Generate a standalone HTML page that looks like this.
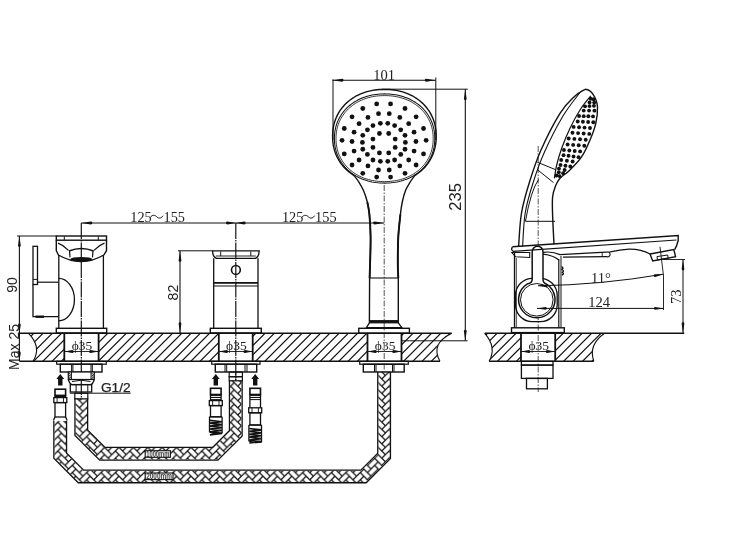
<!DOCTYPE html>
<html><head><meta charset="utf-8"><style>
html,body{margin:0;padding:0;background:#fff;}
body{width:738px;height:540px;overflow:hidden;font-family:"Liberation Sans",sans-serif;}
svg{display:block;}
text{-webkit-font-smoothing:antialiased;}
</style></head><body>
<svg width="738" height="540" viewBox="0 0 738 540" style="will-change:transform">
<defs><clipPath id="cl1"><path d="M28.5,333.3 L451.7,333.3 Q430,344 440,361.3 L33,361.3 Q42,347 28.5,333.3 Z M64.3,333.3H98.6V361.3H64.3Z M218.8,333.3H252.7V361.3H218.8Z M367.5,333.3H401.5V361.3H367.5Z" clip-rule="evenodd"/></clipPath><clipPath id="cl2"><path d="M484.7,333.3 L604.6,333.3 Q588,345 593.8,361.3 L489.1,361.3 Q497,347 484.7,333.3 Z M521,333.3H555.2V361.3H521Z" clip-rule="evenodd"/></clipPath><pattern id="hb" width="14.4" height="7.2" patternUnits="userSpaceOnUse" patternTransform="translate(3.8,1)"><path d="M10.8,-10.8 L14.4,-7.2 L7.2,-0 L3.6,-3.6ZM-3.6,-10.8 L-0,-7.2 L-7.2,-0 L-10.8,-3.6ZM14.4,-7.2 L21.6,0 L18,3.6 L10.8,-3.6ZM0,-7.2 L7.2,0 L3.6,3.6 L-3.6,-3.6ZM10.8,-3.6 L14.4,-0 L7.2,7.2 L3.6,3.6ZM-3.6,-3.6 L0,0 L-7.2,7.2 L-10.8,3.6ZM14.4,0 L21.6,7.2 L18,10.8 L10.8,3.6ZM0,0 L7.2,7.2 L3.6,10.8 L-3.6,3.6ZM10.8,3.6 L14.4,7.2 L7.2,14.4 L3.6,10.8ZM-3.6,3.6 L-0,7.2 L-7.2,14.4 L-10.8,10.8ZM14.4,7.2 L21.6,14.4 L18,18 L10.8,10.8ZM0,7.2 L7.2,14.4 L3.6,18 L-3.6,10.8Z" stroke="#111" stroke-width="1.25" fill="none"/></pattern></defs>
<rect width="738" height="540" fill="#fff"/>
<g clip-rule="evenodd"></g>
<path d="M-1.2,331.3L-33.2,363.3M8.05,331.3L-23.95,363.3M17.3,331.3L-14.7,363.3M26.55,331.3L-5.45,363.3M35.8,331.3L3.8,363.3M45.05,331.3L13.05,363.3M54.3,331.3L22.3,363.3M63.55,331.3L31.55,363.3M72.8,331.3L40.8,363.3M82.05,331.3L50.05,363.3M91.3,331.3L59.3,363.3M100.55,331.3L68.55,363.3M109.8,331.3L77.8,363.3M119.05,331.3L87.05,363.3M128.3,331.3L96.3,363.3M137.55,331.3L105.55,363.3M146.8,331.3L114.8,363.3M156.05,331.3L124.05,363.3M165.3,331.3L133.3,363.3M174.55,331.3L142.55,363.3M183.8,331.3L151.8,363.3M193.05,331.3L161.05,363.3M202.3,331.3L170.3,363.3M211.55,331.3L179.55,363.3M220.8,331.3L188.8,363.3M230.05,331.3L198.05,363.3M239.3,331.3L207.3,363.3M248.55,331.3L216.55,363.3M257.8,331.3L225.8,363.3M267.05,331.3L235.05,363.3M276.3,331.3L244.3,363.3M285.55,331.3L253.55,363.3M294.8,331.3L262.8,363.3M304.05,331.3L272.05,363.3M313.3,331.3L281.3,363.3M322.55,331.3L290.55,363.3M331.8,331.3L299.8,363.3M341.05,331.3L309.05,363.3M350.3,331.3L318.3,363.3M359.55,331.3L327.55,363.3M368.8,331.3L336.8,363.3M378.05,331.3L346.05,363.3M387.3,331.3L355.3,363.3M396.55,331.3L364.55,363.3M405.8,331.3L373.8,363.3M415.05,331.3L383.05,363.3M424.3,331.3L392.3,363.3M433.55,331.3L401.55,363.3M442.8,331.3L410.8,363.3M452.05,331.3L420.05,363.3M461.3,331.3L429.3,363.3M470.55,331.3L438.55,363.3M479.8,331.3L447.8,363.3M489.05,331.3L457.05,363.3M498.3,331.3L466.3,363.3M507.55,331.3L475.55,363.3" stroke="#111" stroke-width="1.2" fill="none" clip-path="url(#cl1)"/>
<path d="M28.5,333.3 Q42,347 33,361.3" fill="none" stroke="#111" stroke-width="1.1" />
<path d="M451.7,333.3 Q430,344 440,361.3" fill="none" stroke="#111" stroke-width="1.1" />
<line x1="19.4" y1="333.3" x2="451.7" y2="333.3" stroke="#111" stroke-width="1.6" />
<line x1="19.4" y1="361.3" x2="440" y2="361.3" stroke="#111" stroke-width="1.6" />
<line x1="64.3" y1="333.3" x2="64.3" y2="361.3" stroke="#111" stroke-width="1.8" />
<line x1="98.6" y1="333.3" x2="98.6" y2="361.3" stroke="#111" stroke-width="1.8" />
<line x1="218.8" y1="333.3" x2="218.8" y2="361.3" stroke="#111" stroke-width="1.8" />
<line x1="252.7" y1="333.3" x2="252.7" y2="361.3" stroke="#111" stroke-width="1.8" />
<line x1="367.5" y1="333.3" x2="367.5" y2="361.3" stroke="#111" stroke-width="1.8" />
<line x1="401.5" y1="333.3" x2="401.5" y2="361.3" stroke="#111" stroke-width="1.8" />
<path d="M461.3,331.3L429.3,363.3M470.75,331.3L438.75,363.3M480.2,331.3L448.2,363.3M489.65,331.3L457.65,363.3M499.1,331.3L467.1,363.3M508.55,331.3L476.55,363.3M518,331.3L486,363.3M527.45,331.3L495.45,363.3M536.9,331.3L504.9,363.3M546.35,331.3L514.35,363.3M555.8,331.3L523.8,363.3M565.25,331.3L533.25,363.3M574.7,331.3L542.7,363.3M584.15,331.3L552.15,363.3M593.6,331.3L561.6,363.3M603.05,331.3L571.05,363.3M612.5,331.3L580.5,363.3M621.95,331.3L589.95,363.3M631.4,331.3L599.4,363.3M640.85,331.3L608.85,363.3M650.3,331.3L618.3,363.3" stroke="#111" stroke-width="1.2" fill="none" clip-path="url(#cl2)"/>
<path d="M484.7,333.3 Q497,347 489.1,361.3" fill="none" stroke="#111" stroke-width="1.1" />
<path d="M604.6,333.3 Q588,345 593.8,361.3" fill="none" stroke="#111" stroke-width="1.1" />
<line x1="484.7" y1="333.3" x2="684.2" y2="333.3" stroke="#111" stroke-width="1.4" />
<line x1="489.1" y1="361.3" x2="593.8" y2="361.3" stroke="#111" stroke-width="1.6" />
<line x1="521" y1="333.3" x2="521" y2="361.3" stroke="#111" stroke-width="1.8" />
<line x1="555.2" y1="333.3" x2="555.2" y2="361.3" stroke="#111" stroke-width="1.8" />
<text x="82.05" y="349.6" font-family="Liberation Serif" font-size="13.5" text-anchor="middle" fill="#222" >&#981;35</text>
<line x1="64.45" y1="351.5" x2="98.45" y2="351.5" stroke="#111" stroke-width="0.9" />
<path d="M64.45,351.5 L72.25,349.97 A1.53,1.53 0 0 1 72.25,353.03 Z" fill="#111" stroke="none"/>
<path d="M98.45,351.5 L90.65,353.03 A1.53,1.53 0 0 1 90.65,349.97 Z" fill="#111" stroke="none"/>
<text x="236.35" y="349.6" font-family="Liberation Serif" font-size="13.5" text-anchor="middle" fill="#222" >&#981;35</text>
<line x1="218.75" y1="351.5" x2="252.75" y2="351.5" stroke="#111" stroke-width="0.9" />
<path d="M218.75,351.5 L226.55,349.97 A1.53,1.53 0 0 1 226.55,353.03 Z" fill="#111" stroke="none"/>
<path d="M252.75,351.5 L244.95,353.03 A1.53,1.53 0 0 1 244.95,349.97 Z" fill="#111" stroke="none"/>
<text x="385.1" y="349.6" font-family="Liberation Serif" font-size="13.5" text-anchor="middle" fill="#222" >&#981;35</text>
<line x1="367.5" y1="351.5" x2="401.5" y2="351.5" stroke="#111" stroke-width="0.9" />
<path d="M367.5,351.5 L375.3,349.97 A1.53,1.53 0 0 1 375.3,353.03 Z" fill="#111" stroke="none"/>
<path d="M401.5,351.5 L393.7,353.03 A1.53,1.53 0 0 1 393.7,349.97 Z" fill="#111" stroke="none"/>
<text x="538.7" y="349.6" font-family="Liberation Serif" font-size="13.5" text-anchor="middle" fill="#222" >&#981;35</text>
<line x1="521.1" y1="351.5" x2="555.1" y2="351.5" stroke="#111" stroke-width="0.9" />
<path d="M521.1,351.5 L528.9,349.97 A1.53,1.53 0 0 1 528.9,353.03 Z" fill="#111" stroke="none"/>
<path d="M555.1,351.5 L547.3,353.03 A1.53,1.53 0 0 1 547.3,349.97 Z" fill="#111" stroke="none"/>
<line x1="81.3" y1="223" x2="384.2" y2="223" stroke="#111" stroke-width="1.0" />
<path d="M81.3,223 L90.9,221.56 A1.44,1.44 0 0 1 90.9,224.44 Z" fill="#111" stroke="none"/>
<path d="M235.8,223 L227.4,224.44 A1.44,1.44 0 0 1 227.4,221.56 Z" fill="#111" stroke="none"/>
<path d="M235.8,223 L244.2,221.56 A1.44,1.44 0 0 1 244.2,224.44 Z" fill="#111" stroke="none"/>
<path d="M384.2,223 L374.6,224.44 A1.44,1.44 0 0 1 374.6,221.56 Z" fill="#111" stroke="none"/>
<text x="130.3" y="221.7" font-family="Liberation Serif" font-size="14.3" text-anchor="start" fill="#222" >125</text>
<path d="M150.1,217.5 C152.6,214.2 155.1,215.2 156.6,216.7 C158.1,218.2 160.6,219.2 163.1,215.7" fill="none" stroke="#111" stroke-width="1.0" />
<text x="163.5" y="221.7" font-family="Liberation Serif" font-size="14.3" text-anchor="start" fill="#222" >155</text>
<text x="281.9" y="221.7" font-family="Liberation Serif" font-size="14.3" text-anchor="start" fill="#222" >125</text>
<path d="M301.7,217.5 C304.2,214.2 306.7,215.2 308.2,216.7 C309.7,218.2 312.2,219.2 314.7,215.7" fill="none" stroke="#111" stroke-width="1.0" />
<text x="315.1" y="221.7" font-family="Liberation Serif" font-size="14.3" text-anchor="start" fill="#222" >155</text>
<line x1="81.3" y1="223" x2="81.3" y2="398" stroke="#151515" stroke-width="1.2" stroke-dasharray="16 1 1.5 1"/>
<rect x="56.3" y="236" width="50.2" height="4.2" fill="none" stroke="#111" stroke-width="1.4" />
<line x1="64.3" y1="236.5" x2="64.3" y2="240" stroke="#111" stroke-width="1" />
<line x1="98.3" y1="236.5" x2="98.3" y2="240" stroke="#111" stroke-width="1" />
<path d="M56.3,240.2 V250.7 L58.4,255 Q81.3,268.2 103.8,255 L106.5,250.7 V240.2" fill="none" stroke="#111" stroke-width="1.4" />
<path d="M58,243.1 Q63.5,245 68.5,250.3" fill="none" stroke="#111" stroke-width="1.2" />
<path d="M104.5,243.1 Q99,245 94,250.3" fill="none" stroke="#111" stroke-width="1.2" />
<path d="M69,251 Q81.3,246 93.5,251" fill="none" stroke="#111" stroke-width="1.5" />
<line x1="69.5" y1="250.5" x2="70" y2="257.4" stroke="#111" stroke-width="1.2" />
<line x1="93" y1="250.5" x2="92.5" y2="257.4" stroke="#111" stroke-width="1.2" />
<ellipse cx="81.3" cy="259.3" rx="10.9" ry="2.4" fill="#111"/>
<line x1="58.8" y1="255" x2="58.8" y2="328.3" stroke="#111" stroke-width="1.3" />
<line x1="103.4" y1="255" x2="103.4" y2="328.3" stroke="#111" stroke-width="1.3" />
<rect x="56.3" y="328.3" width="50.4" height="4.7" fill="none" stroke="#111" stroke-width="1.4" />
<rect x="33" y="246.3" width="4.5" height="38.2" fill="none" stroke="#111" stroke-width="1.3" />
<line x1="33" y1="279.4" x2="37.5" y2="279.4" stroke="#111" stroke-width="1" />
<line x1="37.5" y1="282.2" x2="58.5" y2="282.2" stroke="#111" stroke-width="1.2" />
<path d="M33,284.5 V316.7 H58.5" fill="none" stroke="#111" stroke-width="1.3" />
<line x1="35.5" y1="316.7" x2="44" y2="316.7" stroke="#111" stroke-width="2.4" />
<path d="M58.7,278.3 A15.7,21.2 0 0 1 58.7,320.8" fill="none" stroke="#111" stroke-width="1.3" />
<line x1="17" y1="236" x2="56.3" y2="236" stroke="#111" stroke-width="1" />
<line x1="19.4" y1="236" x2="19.4" y2="361.3" stroke="#111" stroke-width="1.1" />
<path d="M19.4,236 L20.75,245.6 A1.35,1.35 0 0 1 18.05,245.6 Z" fill="#111" stroke="none"/>
<path d="M19.4,333.3 L18.05,324.9 A1.35,1.35 0 0 1 20.75,324.9 Z" fill="#111" stroke="none"/>
<path d="M19.4,361.3 L18.05,352.9 A1.35,1.35 0 0 1 20.75,352.9 Z" fill="#111" stroke="none"/>
<text x="17.3" y="285" font-family="Liberation Sans" font-size="14" text-anchor="middle" fill="#222" transform="rotate(-90 17.3 285)" >90</text>
<text x="18.6" y="347" font-family="Liberation Sans" font-size="14" text-anchor="middle" fill="#222" transform="rotate(-90 18.6 347)" >Max 25</text>
<line x1="235.8" y1="223" x2="235.8" y2="382" stroke="#151515" stroke-width="1.2" stroke-dasharray="16 1 1.5 1"/>
<path d="M212.5,250.8 H259.2 Q259,257 255.5,258.3 H216.5 Q212.7,257 212.5,250.8 Z" fill="none" stroke="#111" stroke-width="1.3" />
<line x1="220.7" y1="251.5" x2="220.7" y2="256" stroke="#111" stroke-width="1" />
<line x1="250.8" y1="251.5" x2="250.8" y2="256" stroke="#111" stroke-width="1" />
<line x1="216" y1="256" x2="255.8" y2="256" stroke="#111" stroke-width="0.9" />
<line x1="213.7" y1="258.3" x2="213.7" y2="328.3" stroke="#111" stroke-width="1.3" />
<line x1="258" y1="258.3" x2="258" y2="328.3" stroke="#111" stroke-width="1.3" />
<line x1="213.7" y1="282.9" x2="258" y2="282.9" stroke="#111" stroke-width="1.7" />
<line x1="213.7" y1="286" x2="258" y2="286" stroke="#111" stroke-width="1.2" />
<circle cx="235.9" cy="269.9" r="4.4" fill="none" stroke="#111" stroke-width="1.6"/>
<rect x="210.3" y="328.3" width="51" height="4.7" fill="none" stroke="#111" stroke-width="1.4" />
<line x1="178" y1="250.8" x2="212.5" y2="250.8" stroke="#111" stroke-width="1" />
<line x1="180" y1="250.8" x2="180" y2="333.3" stroke="#111" stroke-width="1.1" />
<path d="M180,250.8 L181.35,260.4 A1.35,1.35 0 0 1 178.65,260.4 Z" fill="#111" stroke="none"/>
<path d="M180,333.3 L178.65,323.7 A1.35,1.35 0 0 1 181.35,323.7 Z" fill="#111" stroke="none"/>
<text x="178.5" y="292.6" font-family="Liberation Sans" font-size="14" text-anchor="middle" fill="#222" transform="rotate(-90 178.5 292.6)" >82</text>
<line x1="384.2" y1="185" x2="384.2" y2="378" stroke="#555" stroke-width="1.0" stroke-dasharray="6 1.5 1.5 1.5"/>
<path d="M369.4,320.7 L369.6,278 C369.68,275.55 369.93,270.18 370.1,263.3 C370.27,256.42 370.72,244.85 370.6,236.7 C370.48,228.55 369.95,220.18 369.4,214.4 C368.85,208.62 368.28,205.98 367.3,202 C366.32,198.02 364.97,193.92 363.5,190.5 C362.03,187.08 360.07,183.99 358.5,181.5 C356.93,179.01 354.83,176.55 354.1,175.56 L352.37,174.45 L350.7,173.28 L349.09,172.04 L347.54,170.74 L346.06,169.37 L344.65,167.95 L343.31,166.47 L342.04,164.93 L340.84,163.35 L339.72,161.71 L338.68,160.02 L337.71,158.28 L336.83,156.5 L336.02,154.67 L335.3,152.8 L334.66,150.89 L334.11,148.94 L333.64,146.96 L333.26,144.93 L332.96,142.85 L332.76,140.73 L332.63,138.52 L332.6,136.09 L332.65,133.77 L332.8,131.59 L333.02,129.47 L333.34,127.41 L333.74,125.39 L334.23,123.41 L334.8,121.47 L335.46,119.57 L336.2,117.71 L337.02,115.9 L337.92,114.12 L338.91,112.4 L339.97,110.72 L341.11,109.09 L342.32,107.51 L343.61,105.99 L344.96,104.52 L346.39,103.11 L347.89,101.76 L349.45,100.48 L351.07,99.25 L352.76,98.09 L354.5,97 L356.3,95.97 L358.16,95.02 L360.07,94.13 L362.03,93.32 L364.03,92.58 L366.09,91.92 L368.19,91.33 L370.33,90.82 L372.51,90.39 L374.75,90.03 L377.03,89.76 L379.36,89.56 L381.78,89.44 L384.4,89.4 L387.02,89.44 L389.44,89.56 L391.77,89.76 L394.05,90.03 L396.29,90.39 L398.47,90.82 L400.61,91.33 L402.71,91.92 L404.77,92.58 L406.77,93.32 L408.73,94.13 L410.64,95.02 L412.5,95.97 L414.3,97 L416.04,98.09 L417.73,99.25 L419.35,100.48 L420.91,101.76 L422.41,103.11 L423.84,104.52 L425.19,105.99 L426.48,107.51 L427.69,109.09 L428.83,110.72 L429.89,112.4 L430.88,114.12 L431.78,115.9 L432.6,117.71 L433.34,119.57 L434,121.47 L434.57,123.41 L435.06,125.39 L435.46,127.41 L435.78,129.47 L436,131.59 L436.15,133.77 L436.2,136.09 L436.17,138.52 L436.04,140.73 L435.84,142.85 L435.54,144.93 L435.16,146.96 L434.69,148.94 L434.14,150.89 L433.5,152.8 L432.78,154.67 L431.97,156.5 L431.09,158.28 L430.12,160.02 L429.08,161.71 L427.96,163.35 L426.76,164.93 L425.49,166.47 L424.15,167.95 L422.74,169.37 L421.26,170.74 L419.71,172.04 L418.1,173.28 L416.43,174.45 L414.7,175.56 L414.7,175.56 C414,176.55 412.03,179.01 410.5,181.5 C408.97,183.99 406.87,187.08 405.5,190.5 C404.13,193.92 403.15,198.02 402.3,202 C401.45,205.98 401.07,208.62 400.4,214.4 C399.73,220.18 398.73,228.55 398.3,236.7 C397.87,244.85 397.8,256.42 397.8,263.3 C397.8,270.18 398.22,275.55 398.3,278 L398.3,320.7" fill="none" stroke="#111" stroke-width="1.4" />
<path d="M434.8,138.5 L434.76,140.54 L434.65,142.45 L434.47,144.3 L434.21,146.12 L433.88,147.91 L433.48,149.66 L433,151.38 L432.46,153.07 L431.84,154.74 L431.15,156.37 L430.4,157.96 L429.58,159.52 L428.68,161.05 L427.73,162.54 L426.71,163.98 L425.62,165.39 L424.48,166.75 L423.27,168.07 L422.01,169.34 L420.69,170.56 L419.31,171.74 L417.88,172.86 L416.4,173.93 L414.86,174.95 L413.28,175.91 L411.65,176.82 L409.98,177.67 L408.26,178.46 L406.51,179.19 L404.71,179.86 L402.88,180.47 L401,181.02 L399.1,181.5 L397.16,181.93 L395.19,182.28 L393.18,182.58 L391.13,182.81 L389.05,182.97 L386.9,183.07 L384.6,183.1 L382.3,183.07 L380.15,182.97 L378.07,182.81 L376.02,182.58 L374.01,182.28 L372.04,181.93 L370.1,181.5 L368.2,181.02 L366.32,180.47 L364.49,179.86 L362.69,179.19 L360.94,178.46 L359.22,177.67 L357.55,176.82 L355.92,175.91 L354.34,174.95 L352.8,173.93 L351.32,172.86 L349.89,171.74 L348.51,170.56 L347.19,169.34 L345.93,168.07 L344.72,166.75 L343.58,165.39 L342.49,163.98 L341.47,162.54 L340.52,161.05 L339.62,159.52 L338.8,157.96 L338.05,156.37 L337.36,154.74 L336.74,153.07 L336.2,151.38 L335.72,149.66 L335.32,147.91 L334.99,146.12 L334.73,144.3 L334.55,142.45 L334.44,140.54 L334.4,138.5 L334.44,136.46 L334.55,134.55 L334.73,132.7 L334.99,130.88 L335.32,129.09 L335.72,127.34 L336.2,125.62 L336.74,123.93 L337.36,122.26 L338.05,120.63 L338.8,119.04 L339.62,117.48 L340.52,115.95 L341.47,114.46 L342.49,113.02 L343.58,111.61 L344.72,110.25 L345.93,108.93 L347.19,107.66 L348.51,106.44 L349.89,105.26 L351.32,104.14 L352.8,103.07 L354.34,102.05 L355.92,101.09 L357.55,100.18 L359.22,99.33 L360.94,98.54 L362.69,97.81 L364.49,97.14 L366.32,96.53 L368.2,95.98 L370.1,95.5 L372.04,95.07 L374.01,94.72 L376.02,94.42 L378.07,94.19 L380.15,94.03 L382.3,93.93 L384.6,93.9 L386.9,93.93 L389.05,94.03 L391.13,94.19 L393.18,94.42 L395.19,94.72 L397.16,95.07 L399.1,95.5 L401,95.98 L402.88,96.53 L404.71,97.14 L406.51,97.81 L408.26,98.54 L409.98,99.33 L411.65,100.18 L413.28,101.09 L414.86,102.05 L416.4,103.07 L417.88,104.14 L419.31,105.26 L420.69,106.44 L422.01,107.66 L423.27,108.93 L424.48,110.25 L425.62,111.61 L426.71,113.02 L427.73,114.46 L428.68,115.95 L429.58,117.48 L430.4,119.04 L431.15,120.63 L431.84,122.26 L432.46,123.93 L433,125.62 L433.48,127.34 L433.88,129.09 L434.21,130.88 L434.47,132.7 L434.65,134.55 L434.76,136.46 L434.8,138.5Z" fill="none" stroke="#111" stroke-width="1.05" />
<path d="M433.2,138.6 L433.16,140.57 L433.06,142.41 L432.88,144.2 L432.63,145.95 L432.31,147.67 L431.92,149.36 L431.46,151.02 L430.93,152.65 L430.33,154.25 L429.67,155.83 L428.94,157.36 L428.14,158.87 L427.28,160.34 L426.35,161.77 L425.37,163.17 L424.32,164.52 L423.21,165.84 L422.04,167.11 L420.82,168.33 L419.54,169.51 L418.2,170.64 L416.82,171.73 L415.38,172.76 L413.9,173.74 L412.37,174.67 L410.79,175.54 L409.17,176.36 L407.51,177.12 L405.81,177.83 L404.07,178.48 L402.29,179.06 L400.48,179.59 L398.64,180.06 L396.76,180.47 L394.85,180.81 L392.9,181.1 L390.93,181.32 L388.9,181.47 L386.83,181.57 L384.6,181.6 L382.37,181.57 L380.3,181.47 L378.27,181.32 L376.3,181.1 L374.35,180.81 L372.44,180.47 L370.56,180.06 L368.72,179.59 L366.91,179.06 L365.13,178.48 L363.39,177.83 L361.69,177.12 L360.03,176.36 L358.41,175.54 L356.83,174.67 L355.3,173.74 L353.82,172.76 L352.38,171.73 L351,170.64 L349.66,169.51 L348.38,168.33 L347.16,167.11 L345.99,165.84 L344.88,164.52 L343.83,163.17 L342.85,161.77 L341.92,160.34 L341.06,158.87 L340.26,157.36 L339.53,155.83 L338.87,154.25 L338.27,152.65 L337.74,151.02 L337.28,149.36 L336.89,147.67 L336.57,145.95 L336.32,144.2 L336.14,142.41 L336.04,140.57 L336,138.6 L336.04,136.63 L336.14,134.79 L336.32,133 L336.57,131.25 L336.89,129.53 L337.28,127.84 L337.74,126.18 L338.27,124.55 L338.87,122.95 L339.53,121.37 L340.26,119.84 L341.06,118.33 L341.92,116.86 L342.85,115.43 L343.83,114.03 L344.88,112.68 L345.99,111.36 L347.16,110.09 L348.38,108.87 L349.66,107.69 L351,106.56 L352.38,105.47 L353.82,104.44 L355.3,103.46 L356.83,102.53 L358.41,101.66 L360.03,100.84 L361.69,100.08 L363.39,99.37 L365.13,98.72 L366.91,98.14 L368.72,97.61 L370.56,97.14 L372.44,96.73 L374.35,96.39 L376.3,96.1 L378.27,95.88 L380.3,95.73 L382.37,95.63 L384.6,95.6 L386.83,95.63 L388.9,95.73 L390.93,95.88 L392.9,96.1 L394.85,96.39 L396.76,96.73 L398.64,97.14 L400.48,97.61 L402.29,98.14 L404.07,98.72 L405.81,99.37 L407.51,100.08 L409.17,100.84 L410.79,101.66 L412.37,102.53 L413.9,103.46 L415.38,104.44 L416.82,105.47 L418.2,106.56 L419.54,107.69 L420.82,108.87 L422.04,110.09 L423.21,111.36 L424.32,112.68 L425.37,114.03 L426.35,115.43 L427.28,116.86 L428.14,118.33 L428.94,119.84 L429.67,121.37 L430.33,122.95 L430.93,124.55 L431.46,126.18 L431.92,127.84 L432.31,129.53 L432.63,131.25 L432.88,133 L433.06,134.79 L433.16,136.63 L433.2,138.6Z" fill="none" stroke="#111" stroke-width="0.85" />
<line x1="369.4" y1="278" x2="398.3" y2="278" stroke="#111" stroke-width="1.1" />
<path d="M369.6,278 C369.68,275.55 369.93,270.18 370.1,263.3 C370.27,256.42 370.72,244.85 370.6,236.7 C370.48,228.55 369.95,220.18 369.4,214.4 C368.85,208.62 367.65,204.07 367.3,202 M400.4,214.4 C400.05,218.12 398.73,228.55 398.3,236.7 C397.87,244.85 397.8,256.42 397.8,263.3 C397.8,270.18 398.22,275.55 398.3,278" fill="none" stroke="#111" stroke-width="1.9" />
<rect x="369.4" y="320.7" width="28.9" height="2.1" fill="#111" stroke="#111" stroke-width="1.2" />
<path d="M369.4,322.8 L366.4,327.6 H401.8 L398.3,322.8" fill="none" stroke="#111" stroke-width="1.3" />
<rect x="358.75" y="328.3" width="50.65" height="4.9" fill="none" stroke="#111" stroke-width="1.4" />
<g fill="#111"><circle cx="376.67" cy="103.89" r="2.4"/><circle cx="390.56" cy="103.89" r="2.4"/><circle cx="362.78" cy="108.52" r="2.4"/><circle cx="405" cy="108.52" r="2.4"/><circle cx="378.52" cy="113.7" r="2.4"/><circle cx="389.26" cy="113.7" r="2.4"/><circle cx="352.04" cy="116.85" r="2.4"/><circle cx="367.96" cy="117.41" r="2.4"/><circle cx="399.81" cy="117.41" r="2.4"/><circle cx="416.11" cy="116.85" r="2.4"/><circle cx="359.07" cy="123.7" r="2.4"/><circle cx="372.96" cy="125.56" r="2.4"/><circle cx="380.37" cy="123.33" r="2.4"/><circle cx="387.78" cy="123.33" r="2.4"/><circle cx="394.63" cy="125.56" r="2.4"/><circle cx="408.7" cy="123.7" r="2.4"/><circle cx="344.26" cy="128.52" r="2.4"/><circle cx="367.41" cy="129.81" r="2.4"/><circle cx="400.74" cy="129.81" r="2.4"/><circle cx="423.52" cy="128.52" r="2.4"/><circle cx="354.07" cy="132.22" r="2.4"/><circle cx="379.44" cy="133.52" r="2.4"/><circle cx="388.7" cy="133.52" r="2.4"/><circle cx="414.07" cy="132.22" r="2.4"/><circle cx="362.78" cy="135.37" r="2.4"/><circle cx="405" cy="135.37" r="2.4"/><circle cx="342.04" cy="140.37" r="2.4"/><circle cx="352.04" cy="141.48" r="2.4"/><circle cx="362.41" cy="142.41" r="2.4"/><circle cx="372.96" cy="139.07" r="2.4"/><circle cx="395.19" cy="139.07" r="2.4"/><circle cx="405.37" cy="142.41" r="2.4"/><circle cx="415.93" cy="141.48" r="2.4"/><circle cx="426.11" cy="140.37" r="2.4"/><circle cx="372.96" cy="147.41" r="2.4"/><circle cx="395.19" cy="147.41" r="2.4"/><circle cx="344.26" cy="153.89" r="2.4"/><circle cx="354.07" cy="151.11" r="2.4"/><circle cx="362.78" cy="149.26" r="2.4"/><circle cx="405" cy="149.26" r="2.4"/><circle cx="414.07" cy="151.11" r="2.4"/><circle cx="423.52" cy="153.89" r="2.4"/><circle cx="367.41" cy="154.44" r="2.4"/><circle cx="400.74" cy="154.44" r="2.4"/><circle cx="379.44" cy="152.96" r="2.4"/><circle cx="388.7" cy="152.96" r="2.4"/><circle cx="359.07" cy="160" r="2.4"/><circle cx="372.96" cy="160" r="2.4"/><circle cx="380.37" cy="161.3" r="2.4"/><circle cx="387.78" cy="161.3" r="2.4"/><circle cx="394.63" cy="160" r="2.4"/><circle cx="408.7" cy="160" r="2.4"/><circle cx="352.04" cy="165" r="2.4"/><circle cx="367.96" cy="165.93" r="2.4"/><circle cx="399.81" cy="165.93" r="2.4"/><circle cx="416.11" cy="165" r="2.4"/><circle cx="378.52" cy="170" r="2.4"/><circle cx="389.26" cy="170" r="2.4"/><circle cx="362.78" cy="173.33" r="2.4"/><circle cx="405" cy="173.33" r="2.4"/><circle cx="376.67" cy="177.04" r="2.4"/><circle cx="390.56" cy="177.04" r="2.4"/></g>
<line x1="332.5" y1="80.3" x2="435.8" y2="80.3" stroke="#111" stroke-width="1.1" />
<path d="M332.5,80.3 L342.1,78.86 A1.44,1.44 0 0 1 342.1,81.74 Z" fill="#111" stroke="none"/>
<path d="M435.8,80.3 L426.2,81.74 A1.44,1.44 0 0 1 426.2,78.86 Z" fill="#111" stroke="none"/>
<line x1="333" y1="79.3" x2="333" y2="140" stroke="#111" stroke-width="1" />
<line x1="435.8" y1="77.5" x2="435.8" y2="140" stroke="#111" stroke-width="1" />
<text x="384.2" y="79.5" font-family="Liberation Serif" font-size="14.5" text-anchor="middle" fill="#222" >101</text>
<line x1="381.7" y1="89.2" x2="467.8" y2="89.2" stroke="#111" stroke-width="1" />
<line x1="465.3" y1="89.2" x2="465.3" y2="340.8" stroke="#111" stroke-width="1.1" />
<line x1="401.7" y1="340.8" x2="467.5" y2="340.8" stroke="#111" stroke-width="1" />
<path d="M465.3,89.2 L466.65,98.8 A1.35,1.35 0 0 1 463.95,98.8 Z" fill="#111" stroke="none"/>
<path d="M465.3,340.8 L463.95,331.2 A1.35,1.35 0 0 1 466.65,331.2 Z" fill="#111" stroke="none"/>
<text x="461.3" y="196.9" font-family="Liberation Sans" font-size="16.5" text-anchor="middle" fill="#222" transform="rotate(-90 461.3 196.9)" >235</text>
<line x1="538.2" y1="146" x2="538.2" y2="392" stroke="#555" stroke-width="1.0" stroke-dasharray="6 1.5 1.5 1.5"/>
<rect x="511.5" y="327.8" width="52.8" height="4.8" fill="none" stroke="#111" stroke-width="1.4" />
<line x1="514.5" y1="252" x2="514.5" y2="327.8" stroke="#111" stroke-width="1.3" />
<line x1="516.3" y1="258" x2="516.3" y2="327.8" stroke="#111" stroke-width="0.8" />
<line x1="558.8" y1="259" x2="558.8" y2="327.8" stroke="#111" stroke-width="1.2" />
<line x1="561" y1="256" x2="561" y2="327.8" stroke="#111" stroke-width="1.0" />
<rect x="515.5" y="278.3" width="41.7" height="43.4" rx="17" fill="none" stroke="#111" stroke-width="1.3"/>
<path d="M532.2,251.7 A5.4,5.4 0 0 1 543,251.7 V279.5 Q543,283 546.5,284.1 A18.2,18.2 0 1 1 527.1,284.1 Q532.2,283 532.2,279.5 Z" fill="#fff" stroke="#111" stroke-width="1.5" />
<circle cx="536.8" cy="299.8" r="16.3" fill="none" stroke="#111" stroke-width="1.0"/>
<path d="M512.4,246.8 L678.2,235.5 V240.5 Q677,245.5 674.7,249.6" fill="none" stroke="#111" stroke-width="1.4" />
<line x1="513" y1="251.4" x2="676.5" y2="240" stroke="#111" stroke-width="1.2" />
<path d="M512.4,246.8 Q510.5,249.2 513,251.4" fill="none" stroke="#111" stroke-width="1.2" />
<path d="M511.8,252.5 H529.7 V257.5 L515.5,256.7 Z" fill="none" stroke="#111" stroke-width="1.1" />
<path d="M543,254.2 Q554,255.5 558.8,260" fill="none" stroke="#111" stroke-width="1.2" />
<path d="M543,252.4 Q552,251 560,254.6 L610.3,251.8 Q620,250 629,249.2 Q641,249 650,254" fill="none" stroke="#111" stroke-width="1.2" />
<path d="M563,257.1 L606.5,256.6 A2.2,2.2 0 0 0 608.7,252.2" fill="none" stroke="#111" stroke-width="1.1" />
<line x1="602.2" y1="252.5" x2="602.2" y2="256.6" stroke="#111" stroke-width="0.9" />
<path d="M650,254 L673.8,249.6 L675.6,256.6 L652.7,261 Z" fill="none" stroke="#111" stroke-width="1.4" />
<path d="M657,256.6 L667.7,255 L668.2,258.3 L657.4,259.9 Z" fill="none" stroke="#111" stroke-width="1.0" />
<path d="M561.5,266.5 q2.5,1.5 0.5,3 q2.5,1.5 0.5,3 q2,1.5 -0.5,2.5" fill="none" stroke="#111" stroke-width="1.4" />
<path d="M538,285.8 Q600,285 663.3,274.2" fill="none" stroke="#111" stroke-width="1.0" />
<path d="M538,285.8 L546.4,284.45 A1.35,1.35 0 0 1 546.4,287.15 Z" fill="#111" stroke="none"/>
<path d="M663.3,274.2 L655.27,277.02 A1.35,1.35 0 0 1 654.79,274.36 Z" fill="#111" stroke="none"/>
<text x="601" y="282.5" font-family="Liberation Serif" font-size="14.5" text-anchor="middle" fill="#222" >11&#176;</text>
<line x1="537" y1="308.4" x2="663.7" y2="308.4" stroke="#111" stroke-width="1.0" />
<path d="M537,308.4 L545.4,307.05 A1.35,1.35 0 0 1 545.4,309.75 Z" fill="#111" stroke="none"/>
<path d="M663.7,308.4 L655.3,309.75 A1.35,1.35 0 0 1 655.3,307.05 Z" fill="#111" stroke="none"/>
<text x="599" y="307.3" font-family="Liberation Serif" font-size="14.5" text-anchor="middle" fill="#222" >124</text>
<line x1="660" y1="246.7" x2="663.3" y2="274.2" stroke="#111" stroke-width="0.9" />
<line x1="663.5" y1="274.2" x2="663.5" y2="310" stroke="#111" stroke-width="0.9" />
<line x1="663.3" y1="259.5" x2="685" y2="259.5" stroke="#111" stroke-width="0.9" />
<line x1="683" y1="259.5" x2="683" y2="333.3" stroke="#111" stroke-width="1.0" />
<path d="M683,259.5 L684.35,269.1 A1.35,1.35 0 0 1 681.65,269.1 Z" fill="#111" stroke="none"/>
<path d="M683,333.3 L681.65,323.7 A1.35,1.35 0 0 1 684.35,323.7 Z" fill="#111" stroke="none"/>
<text x="681.5" y="296.7" font-family="Liberation Serif" font-size="14.5" text-anchor="middle" fill="#222" transform="rotate(-90 681.5 296.7)" >73</text>
<rect x="521.4" y="361.3" width="31.6" height="3.8" fill="none" stroke="#111" stroke-width="1.3" />
<rect x="521.4" y="365.1" width="31.6" height="13.3" fill="none" stroke="#111" stroke-width="1.3" />
<rect x="526.5" y="378.4" width="20.9" height="10.4" fill="none" stroke="#111" stroke-width="1.3" />
<path d="M518.6,246.5 C519.08,240.92 519.68,223.75 521.5,213 C523.32,202.25 526.25,192.5 529.5,182 C532.75,171.5 535.92,161.45 541,150 C546.08,138.55 554.33,122.3 560,113.3 C565.67,104.3 570.83,100 575,96 C579.17,92 583.33,90.42 585,89.3" fill="none" stroke="#111" stroke-width="1.4" />
<path d="M585,89.3 Q591,89.5 595,97.5" fill="none" stroke="#111" stroke-width="1.4" />
<path d="M522.6,246.5 C523.03,240.92 523.47,223.58 525.2,213 C526.93,202.42 529.78,193.17 533,183 C536.22,172.83 539.5,163.17 544.5,152 C549.5,140.83 557.08,125.92 563,116 C568.92,106.08 577.17,96.42 580,92.5" fill="none" stroke="#111" stroke-width="1.1" />
<path d="M590.8,95.8 C589,98.17 583.47,104.58 580,110 C576.53,115.42 573.05,121.92 570,128.3 C566.95,134.68 563.92,142.18 561.7,148.3 C559.48,154.42 557.92,160 556.7,165 C555.48,170 554.78,176.08 554.4,178.3" fill="none" stroke="#111" stroke-width="1.2" />
<path d="M595,97.5 C595.42,99.03 597.37,102.4 597.5,106.7 C597.63,111 597.05,117.75 595.8,123.3 C594.55,128.85 592.35,134.43 590,140 C587.65,145.57 585.03,151.7 581.7,156.7 C578.37,161.7 573.62,166.4 570,170 C566.38,173.6 562.42,175.63 560,178.3 C557.58,180.97 556.73,182.88 555.5,186 C554.27,189.12 553.08,192.17 552.6,197 C552.12,201.83 552.37,207.1 552.6,215 C552.83,222.9 553.77,239.5 554,244.4" fill="none" stroke="#111" stroke-width="1.4" />
<path d="M537.3,162.2 L555.4,169.6 M537.3,169.6 L553.5,182.6 M538.5,179.6 Q531,190 525.4,221.3 M525.4,221.3 H555" fill="none" stroke="#111" stroke-width="1.0" />
<path d="M60.2,421 L60.2,455.7 L80.9,476.4 L363.6,476.4 L384.1,455.9 L384.1,371.7" fill="none" stroke="#111" stroke-width="14.0" stroke-linejoin="miter"/>
<path d="M60.2,421 L60.2,455.7 L80.9,476.4 L363.6,476.4 L384.1,455.9 L384.1,371.7" fill="none" stroke="#fff" stroke-width="11.4" stroke-linejoin="miter"/>
<path d="M60.2,421 L60.2,455.7 L80.9,476.4 L363.6,476.4 L384.1,455.9 L384.1,371.7" fill="none" stroke="url(#hb)" stroke-width="11.4" stroke-linejoin="miter"/>
<path d="M81.3,398.5 L81.3,432.8 L102.3,453.8 L215.3,453.8 L235.8,433.3 L235.8,380.8" fill="none" stroke="#111" stroke-width="14.0" stroke-linejoin="miter"/>
<path d="M81.3,398.5 L81.3,432.8 L102.3,453.8 L215.3,453.8 L235.8,433.3 L235.8,380.8" fill="none" stroke="#fff" stroke-width="11.4" stroke-linejoin="miter"/>
<path d="M81.3,398.5 L81.3,432.8 L102.3,453.8 L215.3,453.8 L235.8,433.3 L235.8,380.8" fill="none" stroke="url(#hb)" stroke-width="11.4" stroke-linejoin="miter"/>
<rect x="145.2" y="450.7" width="25.2" height="6.6" fill="#f4f4f4" stroke="#111" stroke-width="1.1" />
<text x="157.8" y="456.9" font-family="Liberation Sans" font-size="8.6" text-anchor="middle" fill="#222" font-weight="bold" fill-opacity="0.85" textLength="23.2" lengthAdjust="spacingAndGlyphs">1000mm</text>
<rect x="145.2" y="473" width="27.8" height="6.6" fill="#f4f4f4" stroke="#111" stroke-width="1.1" />
<text x="159.1" y="479.2" font-family="Liberation Sans" font-size="8.6" text-anchor="middle" fill="#222" font-weight="bold" fill-opacity="0.85" textLength="25.8" lengthAdjust="spacingAndGlyphs">2000mm</text>
<rect x="56.7" y="361.3" width="49.6" height="2.9" fill="none" stroke="#111" stroke-width="1.2" />
<rect x="60.3" y="364.2" width="41.7" height="7.8" fill="none" stroke="#111" stroke-width="1.4" />
<line x1="71.6" y1="364.2" x2="71.6" y2="372" stroke="#111" stroke-width="1" />
<line x1="72.9" y1="364.2" x2="72.9" y2="372" stroke="#111" stroke-width="1" />
<line x1="91" y1="364.2" x2="91" y2="372" stroke="#111" stroke-width="1" />
<line x1="92.3" y1="364.2" x2="92.3" y2="372" stroke="#111" stroke-width="1" />
<rect x="211.7" y="361.3" width="48.3" height="2.9" fill="none" stroke="#111" stroke-width="1.2" />
<rect x="215.3" y="364.2" width="41.4" height="7.8" fill="none" stroke="#111" stroke-width="1.4" />
<line x1="225" y1="364.2" x2="225" y2="372" stroke="#111" stroke-width="1" />
<line x1="226.7" y1="364.2" x2="226.7" y2="372" stroke="#111" stroke-width="1" />
<line x1="245" y1="364.2" x2="245" y2="372" stroke="#111" stroke-width="1" />
<line x1="247" y1="364.2" x2="247" y2="372" stroke="#111" stroke-width="1" />
<rect x="359.7" y="361.3" width="48.6" height="2.9" fill="none" stroke="#111" stroke-width="1.2" />
<rect x="363.3" y="364.2" width="40.9" height="7.8" fill="none" stroke="#111" stroke-width="1.4" />
<line x1="374.5" y1="364.2" x2="374.5" y2="372" stroke="#111" stroke-width="1" />
<line x1="376" y1="364.2" x2="376" y2="372" stroke="#111" stroke-width="1" />
<line x1="392.5" y1="364.2" x2="392.5" y2="372" stroke="#111" stroke-width="1" />
<line x1="394" y1="364.2" x2="394" y2="372" stroke="#111" stroke-width="1" />
<rect x="68.3" y="372" width="26" height="7.5" fill="#fff" stroke="#111" stroke-width="1.2" />
<line x1="68.6" y1="373.2" x2="71.2" y2="374.6" stroke="#111" stroke-width="0.9" />
<line x1="68.6" y1="374.9" x2="71.2" y2="376.3" stroke="#111" stroke-width="0.9" />
<line x1="68.6" y1="376.6" x2="71.2" y2="378" stroke="#111" stroke-width="0.9" />
<line x1="68.6" y1="378.3" x2="71.2" y2="379.7" stroke="#111" stroke-width="0.9" />
<line x1="91.3" y1="373.2" x2="93.9" y2="374.6" stroke="#111" stroke-width="0.9" />
<line x1="91.3" y1="374.9" x2="93.9" y2="376.3" stroke="#111" stroke-width="0.9" />
<line x1="91.3" y1="376.6" x2="93.9" y2="378" stroke="#111" stroke-width="0.9" />
<line x1="91.3" y1="378.3" x2="93.9" y2="379.7" stroke="#111" stroke-width="0.9" />
<line x1="71.5" y1="372" x2="71.5" y2="379.5" stroke="#111" stroke-width="0.9" />
<line x1="91" y1="372" x2="91" y2="379.5" stroke="#111" stroke-width="0.9" />
<path d="M68.3,379.5 Q70,384.6 72,384.6 H90.5 Q92.6,384.6 94.3,379.5" fill="none" stroke="#111" stroke-width="1.3" />
<path d="M72,381.5 Q81,379 90.5,381.5" fill="none" stroke="#111" stroke-width="1.0" />
<rect x="70.3" y="384.6" width="21.4" height="7.4" fill="none" stroke="#111" stroke-width="1.3" />
<line x1="76.1" y1="384.6" x2="76.1" y2="392" stroke="#111" stroke-width="1" />
<line x1="87.8" y1="384.6" x2="87.8" y2="392" stroke="#111" stroke-width="1" />
<line x1="69.8" y1="393.2" x2="130.7" y2="393.2" stroke="#111" stroke-width="1.0" />
<rect x="74.8" y="393.2" width="13" height="5.7" fill="none" stroke="#111" stroke-width="1.2" />
<text x="100.9" y="391.7" font-family="Liberation Sans" font-size="13.7" text-anchor="start" fill="#222" stroke="#222" stroke-width="0.25">G1/2</text>
<rect x="229.2" y="372" width="13.2" height="4.7" fill="none" stroke="#111" stroke-width="1.2" />
<rect x="229.2" y="376.7" width="13.2" height="4.1" fill="none" stroke="#111" stroke-width="1.2" />
<line x1="235.8" y1="372" x2="235.8" y2="380.8" stroke="#111" stroke-width="0.8" />
<path d="M60.3,374.1 L64.2,379 H62.5 V385.5 H58.1 V379 H56.4 Z" fill="#111"/>
<rect x="55" y="389.2" width="10.6" height="6.2" fill="none" stroke="#111" stroke-width="1.6" />
<line x1="55" y1="396.5" x2="65.6" y2="396.5" stroke="#111" stroke-width="1.0" />
<line x1="55" y1="395.4" x2="55" y2="397.6" stroke="#111" stroke-width="1.3" />
<line x1="65.6" y1="395.4" x2="65.6" y2="397.6" stroke="#111" stroke-width="1.3" />
<rect x="53.8" y="397.6" width="13" height="5" fill="none" stroke="#111" stroke-width="1.3" />
<line x1="57.1" y1="397.6" x2="57.1" y2="402.6" stroke="#111" stroke-width="0.9" />
<line x1="63.5" y1="397.6" x2="63.5" y2="402.6" stroke="#111" stroke-width="0.9" />
<rect x="55" y="402.6" width="10.6" height="14.4" fill="none" stroke="#111" stroke-width="1.3" />
<path d="M55,417 L53.4,420.6 M65.6,417 L67.2,420.6" fill="none" stroke="#111" stroke-width="1.3" />
<path d="M215.8,374.1 L219.7,379 H218 V385.5 H213.6 V379 H211.9 Z" fill="#111"/>
<rect x="210.5" y="388.3" width="10.6" height="6.2" fill="none" stroke="#111" stroke-width="1.6" />
<line x1="210.5" y1="395.6" x2="221.1" y2="395.6" stroke="#111" stroke-width="1.0" />
<line x1="210.5" y1="397.5" x2="221.1" y2="397.5" stroke="#111" stroke-width="1.0" />
<line x1="210.5" y1="399.6" x2="221.1" y2="399.6" stroke="#111" stroke-width="1.0" />
<line x1="210.5" y1="394.5" x2="210.5" y2="400.6" stroke="#111" stroke-width="1.3" />
<line x1="221.1" y1="394.5" x2="221.1" y2="400.6" stroke="#111" stroke-width="1.3" />
<rect x="209.3" y="400.6" width="13" height="5" fill="none" stroke="#111" stroke-width="1.3" />
<line x1="212.6" y1="400.6" x2="212.6" y2="405.6" stroke="#111" stroke-width="0.9" />
<line x1="219" y1="400.6" x2="219" y2="405.6" stroke="#111" stroke-width="0.9" />
<rect x="210.5" y="405.6" width="10.6" height="11.2" fill="none" stroke="#111" stroke-width="1.3" />
<path d="M209.9,420.3 L221.9,421.75 L209.9,423.2 L221.9,424.65 L209.9,426.1 L221.9,427.55 L209.9,429 L221.9,430.45 L209.9,431.9 L221.9,433.35 L209.9,434.8" fill="none" stroke="#111" stroke-width="1.7" />
<path d="M209.5,416.8 V431.9 Q215.8,434.9 222.1,432.9 V416.8" fill="none" stroke="#111" stroke-width="1.3" />
<line x1="209.5" y1="416.8" x2="222.1" y2="416.8" stroke="#111" stroke-width="1.3" />
<path d="M255.2,374.1 L259.1,379 H257.4 V385.5 H253 V379 H251.3 Z" fill="#111"/>
<rect x="249.9" y="388.3" width="10.6" height="6.2" fill="none" stroke="#111" stroke-width="1.6" />
<line x1="249.9" y1="395.6" x2="260.5" y2="395.6" stroke="#111" stroke-width="1.0" />
<line x1="249.9" y1="397.5" x2="260.5" y2="397.5" stroke="#111" stroke-width="1.0" />
<line x1="249.9" y1="399.6" x2="260.5" y2="399.6" stroke="#111" stroke-width="1.0" />
<line x1="249.9" y1="394.5" x2="249.9" y2="407.8" stroke="#111" stroke-width="1.3" />
<line x1="260.5" y1="394.5" x2="260.5" y2="407.8" stroke="#111" stroke-width="1.3" />
<rect x="248.7" y="407.8" width="13" height="5" fill="none" stroke="#111" stroke-width="1.3" />
<line x1="252" y1="407.8" x2="252" y2="412.8" stroke="#111" stroke-width="0.9" />
<line x1="258.4" y1="407.8" x2="258.4" y2="412.8" stroke="#111" stroke-width="0.9" />
<rect x="249.9" y="412.8" width="10.6" height="12.2" fill="none" stroke="#111" stroke-width="1.3" />
<path d="M249.3,428.5 L261.3,429.95 L249.3,431.4 L261.3,432.85 L249.3,434.3 L261.3,435.75 L249.3,437.2 L261.3,438.65 L249.3,440.1 L261.3,441.55 L249.3,443" fill="none" stroke="#111" stroke-width="1.7" />
<path d="M248.9,425 V440.8 Q255.2,443.8 261.5,441.8 V425" fill="none" stroke="#111" stroke-width="1.3" />
<line x1="248.9" y1="425" x2="261.5" y2="425" stroke="#111" stroke-width="1.3" />
<g fill="#111"><circle cx="590.66" cy="98.76" r="1.95"/><circle cx="593.63" cy="99.22" r="1.95"/><circle cx="589.53" cy="102.54" r="1.95"/><circle cx="594.22" cy="102.6" r="1.95"/><circle cx="585.06" cy="106.34" r="1.95"/><circle cx="589.5" cy="106.11" r="1.95"/><circle cx="593.94" cy="105.87" r="1.95"/><circle cx="583.7" cy="110.59" r="1.95"/><circle cx="589.06" cy="110.61" r="1.95"/><circle cx="594.42" cy="110.63" r="1.95"/><circle cx="579.07" cy="116.01" r="1.95"/><circle cx="583.72" cy="116.14" r="1.95"/><circle cx="588.37" cy="116.27" r="1.95"/><circle cx="593.01" cy="116.4" r="1.95"/><circle cx="577.71" cy="121.5" r="1.95"/><circle cx="582.91" cy="121.74" r="1.95"/><circle cx="588.1" cy="121.98" r="1.95"/><circle cx="593.3" cy="122.23" r="1.95"/><circle cx="573.61" cy="126.88" r="1.95"/><circle cx="579.07" cy="127.24" r="1.95"/><circle cx="584.53" cy="127.6" r="1.95"/><circle cx="589.99" cy="127.96" r="1.95"/><circle cx="572.48" cy="132.72" r="1.95"/><circle cx="578.07" cy="133.12" r="1.95"/><circle cx="583.66" cy="133.52" r="1.95"/><circle cx="589.25" cy="133.91" r="1.95"/><circle cx="568.69" cy="138.5" r="1.95"/><circle cx="574.37" cy="138.9" r="1.95"/><circle cx="580.06" cy="139.3" r="1.95"/><circle cx="585.74" cy="139.7" r="1.95"/><circle cx="567.59" cy="144.48" r="1.95"/><circle cx="573.16" cy="144.88" r="1.95"/><circle cx="578.72" cy="145.28" r="1.95"/><circle cx="584.29" cy="145.69" r="1.95"/><circle cx="563.95" cy="150" r="1.95"/><circle cx="569.34" cy="150.47" r="1.95"/><circle cx="574.72" cy="150.94" r="1.95"/><circle cx="580.11" cy="151.42" r="1.95"/><circle cx="563.54" cy="155.16" r="1.95"/><circle cx="568.54" cy="155.82" r="1.95"/><circle cx="573.53" cy="156.48" r="1.95"/><circle cx="578.53" cy="157.14" r="1.95"/><circle cx="561.18" cy="159.97" r="1.95"/><circle cx="566.9" cy="160.76" r="1.95"/><circle cx="572.62" cy="161.56" r="1.95"/><circle cx="560.53" cy="165.02" r="1.95"/><circle cx="565.43" cy="165.75" r="1.95"/><circle cx="570.33" cy="166.48" r="1.95"/><circle cx="558.97" cy="168.77" r="1.95"/><circle cx="564.62" cy="170" r="1.95"/><circle cx="558.8" cy="172.36" r="1.95"/><circle cx="563.15" cy="173.28" r="1.95"/><circle cx="556.44" cy="175.5" r="1.95"/><circle cx="559.5" cy="176.11" r="1.95"/></g>
</svg>
</body></html>
